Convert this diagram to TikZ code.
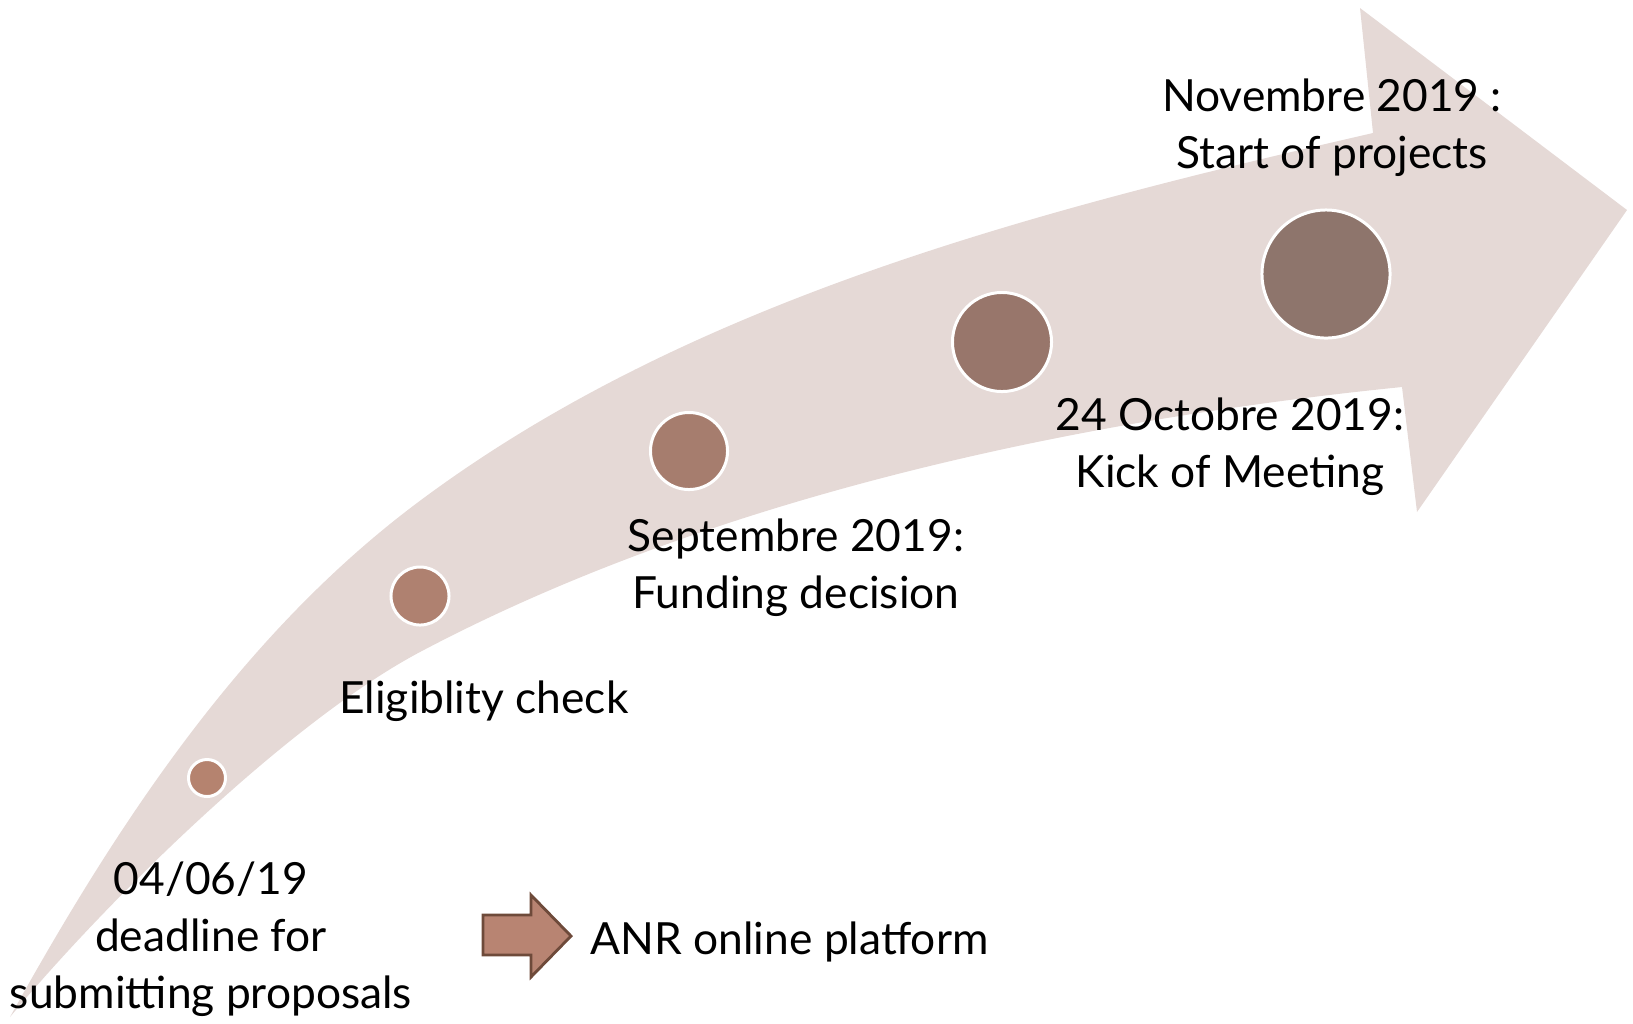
\documentclass[tikz,border=0pt]{standalone}
\usepackage{fontspec}
\setmainfont{Lato}
\definecolor{arrowbg}{HTML}{E5D9D6}
\definecolor{dotA}{HTML}{B5836F}
\definecolor{dotB}{HTML}{AF8170}
\definecolor{dotC}{HTML}{A67D6E}
\definecolor{dotD}{HTML}{98766B}
\definecolor{dotE}{HTML}{8E756C}
\definecolor{smallfill}{HTML}{B88472}
\definecolor{smalldraw}{HTML}{6E4A3A}
\tikzset{
  dot/.style={circle, draw=white, line width=0.85pt, inner sep=0pt},
  lbl/.style={align=center, inner sep=0pt, anchor=base, font=\fontsize{12.6}{16.1}\selectfont},
}
\begin{document}
\begin{tikzpicture}[x=0.01cm, y=-0.01cm]
\useasboundingbox (0,0) rectangle (1633,1023);
% big curved arrow
\fill[arrowbg]
  (10,1017) .. controls (117,824) and (241,635) .. (417,503)
  .. controls (689,299) and (1042,209) .. (1373,133)
  -- (1360,8) -- (1627,210) -- (1417,512) -- (1402,387)
  .. controls (1074,420) and (711,498) .. (420,652)
  .. controls (290,721) and (110,897) .. (10,1017) -- cycle;
% milestone dots
\node[dot, fill=dotA, minimum size=0.37cm] (d1) at (207,778) {};
\node[dot, fill=dotB, minimum size=0.58cm] (d2) at (420,596) {};
\node[dot, fill=dotC, minimum size=0.77cm] (d3) at (689,451) {};
\node[dot, fill=dotD, minimum size=0.99cm] (d4) at (1002,342) {};
\node[dot, fill=dotE, minimum size=1.28cm] (d5) at (1326,274) {};
% labels (base anchor = baseline of last line)
\node[lbl] (t1) at (211,1008) {04/06/19\\deadline for\\submitting proposals};
\node[lbl] (t2) at (484,713) {Eligiblity check};
\node[lbl] (t3) at (796,608) {Septembre 2019:\\Funding decision};
\node[lbl] (t4) at (1230,487) {24 Octobre 2019:\\Kick of Meeting};
\node[lbl] (t5) at (1332,168) {Novembre 2019 :\\Start of projects};
% small arrow and platform
\draw[fill=smallfill, draw=smalldraw, line width=0.8pt, line join=miter]
  (483,915) -- (531,915) -- (531,895) -- (571,936) -- (531,977) -- (531,955) -- (483,955) -- cycle;
\node[lbl, anchor=base west] (t6) at (590,954) {ANR online platform};
\end{tikzpicture}
\end{document}
